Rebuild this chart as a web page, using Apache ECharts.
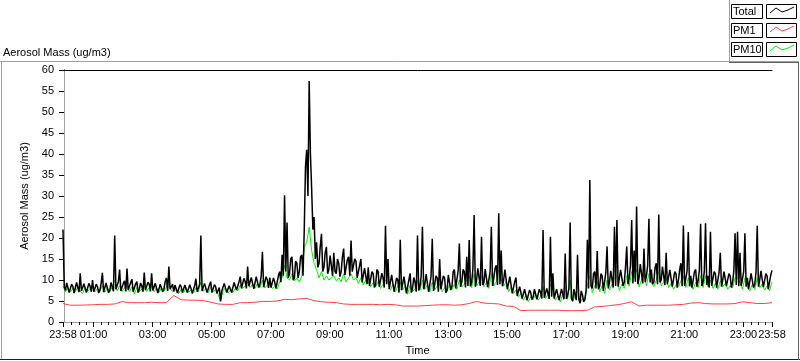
<!DOCTYPE html>
<html><head><meta charset="utf-8">
<script src="https://cdn.jsdelivr.net/npm/echarts@6/dist/echarts.min.js"></script>
<style>html,body{margin:0;padding:0;background:#fff;}#chart{width:800px;height:361px;}</style>
</head><body><div id="chart"></div>
<script>
// ---- data (minutes since midnight; first sample at 23:58 of previous day) ----
const startMinute = -2;
const totalStepMinutes = 2.5;
const pm10StepMinutes = 5;
const pm1StepMinutes = 15;

const totalValues = [
  22, 8.5, 7.5, 9.3, 9, 7, 6.8, 9, 8.5, 6.9, 7.2, 9.4, 9.2, 7.1, 11.6, 7.4, 7, 9.1, 8.8, 7, 7.3, 9.2, 8.5, 7.2,
  10, 7.2, 7, 9, 8.4, 6.9, 7.6, 9.2, 11.7, 7.1, 7.2, 9.3, 9, 7, 7.5, 9.4, 9.5, 7.3, 20.6, 7.8, 8, 9.6, 12.5, 7.4,
  7.6, 9.2, 9.8, 7.3, 12.7, 7.6, 8, 9.4, 10.2, 7.2, 7.4, 9.1, 9.6, 7, 7.8, 9.3, 8.6, 7.2, 11.8, 7.6, 7.5, 9.5, 9, 7.3,
  11.6, 7.5, 7.4, 9.2, 8.8, 6.9, 7, 9, 9.4, 7.2, 7.8, 9.6, 10.5, 7.4, 13.2, 7.8, 8.2, 9, 7.3, 8.8, 8.6, 6.9, 7.1, 8.9,
  8.4, 7, 6.9, 8.8, 9.2, 7, 7.2, 8.9, 8, 6.8, 6.8, 8.7, 10.3, 7.2, 7.5, 9, 20.6, 7.4, 7.8, 9.2, 9, 7, 6.9, 8.8,
  9.6, 7, 7.2, 8.9, 8.4, 6.8, 6.5, 8.2, 4.9, 7.4, 7.8, 9.2, 9.6, 7, 6.8, 8.6, 8.2, 7, 7, 9.4, 9, 7.6, 7.8, 9.6,
  10.8, 8, 8.2, 10.4, 9.6, 8, 13.2, 8.5, 8.4, 10.6, 10.5, 7.9, 8, 10.8, 11.2, 8.2, 9, 10.9, 16.7, 8.3, 8.6, 10.8, 10, 8.1,
  10.6, 8.2, 8.3, 10.5, 9.5, 8, 8, 11, 12, 9.5, 16, 11, 30.2, 12, 23.7, 10.5, 11.5, 15, 15.5, 10, 10.5, 14.5, 14, 10.5,
  12, 15.5, 16, 11, 22, 37, 41, 30, 57.4, 40, 31.8, 22, 25, 15, 19, 13, 14, 18, 21, 12, 13, 16.5, 17.9, 11.5,
  12.5, 15.8, 15.5, 11, 16.5, 12, 11.5, 15, 14, 10.8, 12, 15.5, 17.5, 11.2, 11, 14.8, 15.5, 11, 19.4, 12, 12, 15, 14.5, 10.5,
  10.5, 13.5, 15, 9.5, 9.5, 12.8, 12.5, 9, 13, 8.6, 8.5, 12, 11.5, 8.2, 9, 12.5, 12, 8.4, 8, 11.6, 10.5, 8.2, 22.9, 9,
  15, 7.8, 8, 11.2, 11, 7.2, 7, 10.5, 10, 7, 19.6, 7.6, 7.5, 10.8, 10.5, 6.8, 6.5, 10, 11.6, 7, 8, 10.6, 9.5, 7.2,
  20.6, 7.5, 8.5, 11, 22.7, 7.8, 9, 11.4, 11.5, 7.2, 7.5, 10.8, 19.8, 7.4, 9, 11, 10.5, 7.2, 15, 7.8, 8, 11, 10.5, 7,
  7.5, 11.2, 11, 7.6, 8.5, 12, 12.5, 8, 8, 12.2, 18.7, 8.4, 9.5, 12.5, 12, 8.2, 15.5, 8.6, 19.5, 8.5, 9.5, 12.6, 25.5, 8.4,
  10, 12.8, 13, 8.6, 20.3, 8.8, 9.5, 12.6, 12.5, 8.3, 8.5, 12, 22.7, 8.6, 10.5, 12.8, 13.5, 8.8, 25.9, 9, 17, 8.5, 10, 12.5,
  12.5, 7.8, 8, 10.8, 11, 6.8, 7, 9.6, 10.6, 6.2, 6.5, 8.4, 8, 5.6, 5.5, 7.8, 7.5, 5.2, 5, 7.6, 7, 5.3, 6, 7.8,
  8, 5.4, 5.5, 7.8, 7, 5.6, 21.9, 5.8, 6, 8, 8, 5.5, 20.3, 6, 11.6, 5.6, 5.5, 7.8, 7.5, 5.2, 5, 7.9, 8, 5.4,
  16.3, 5.5, 6.5, 8, 23.7, 5.6, 5, 7.8, 7.5, 5.2, 16, 5.5, 4.5, 7.4, 6.5, 4.8, 5.5, 7.6, 19.6, 8, 33.8, 8.5, 8, 11.5,
  12, 8, 16.9, 7.8, 8.5, 11.5, 11, 7.4, 7.5, 11.8, 18, 8, 9.5, 12.2, 12.5, 8.2, 22.7, 8.6, 24.3, 8.4, 8.5, 12.4, 12, 8.6,
  9.5, 13, 18, 9, 10.5, 13.4, 24.3, 9.2, 17, 9.6, 27.5, 9, 10.5, 13.8, 13.5, 9.2, 17.5, 9.5, 11, 13.5, 24.6, 9.4, 12.5, 9,
  9.5, 13, 14, 9, 25.6, 9.4, 10, 13.2, 13, 8.8, 16.5, 9, 9, 12.4, 12, 8.4, 8.5, 12, 11.5, 8.2, 10, 12.5, 14, 8.5,
  23, 8.6, 9, 12.2, 21.4, 8.5, 11, 8.2, 8.5, 12, 12.5, 8.4, 10, 12.3, 23.4, 8.6, 9.5, 12, 23.5, 8.8, 11, 8.2, 21.5, 8.6,
  9, 12, 11.5, 8.2, 8.5, 11.8, 16.5, 8.4, 10, 12, 12, 8.6, 8.5, 11.5, 11, 8.2, 9.5, 12.2, 21.1, 8.8, 21.5, 8.5, 16.5, 8.6,
  9, 12, 21.1, 8.4, 10.5, 7.8, 8, 11.6, 12, 8.2, 9, 11.8, 22.9, 8.4, 10, 12.2, 12, 8.3, 8.5, 11.5, 11, 7.8, 8, 11.2,
  12.3
];

const pm10Values = [
  8.5, 7.2, 8.2, 7.1, 8, 7.2, 8.3, 7.3, 6.8, 8.2, 7.3, 8,
  8.4, 7.2, 8, 7.3, 8.6, 7.1, 8.2, 7.2, 8.3, 10, 7.4, 8.6,
  7.3, 8.2, 8.8, 7.2, 8.4, 6.7, 8.2, 7.3, 7.8, 8.6, 7.3, 8.2,
  8.6, 7.2, 8.2, 7, 8.2, 7.3, 8.4, 9, 7.5, 7.2, 7.8, 6.7,
  7.8, 7, 8.2, 7.1, 7.6, 6.9, 8.2, 7.2, 9.5, 7.3, 8, 7,
  8.2, 7.1, 7.8, 6.6, 5, 7.4, 8.2, 6.9, 7.6, 7, 8, 7.4,
  8.8, 8, 8.6, 9.5, 8.2, 9, 8, 9.2, 8.2, 10, 8.1, 8.8,
  8.8, 8, 8.4, 7.8, 9.6, 10.5, 13.6, 10.5, 10, 11.5, 9.8, 10.5,
  9.5, 11, 17.8, 19, 22.6, 17, 14, 12.5, 10.5, 12, 10, 11,
  10, 10.5, 11, 9.8, 10.5, 9.6, 11.5, 9.5, 10.5, 11.5, 10, 10.5,
  9.2, 10.5, 8.8, 10, 9.5, 8.4, 9.4, 8.4, 9.6, 8, 9, 10,
  9.5, 7.6, 9, 7.2, 8.6, 9.5, 7.6, 8.6, 6.6, 8.8, 7.2, 8,
  9.8, 7.6, 10, 7.8, 8.8, 7.2, 9.5, 7.6, 8.6, 9, 7.2, 8.2,
  7.5, 8.8, 7.8, 9, 7.8, 10, 8.4, 9, 10, 11, 8.2, 11.5,
  8.6, 9.5, 11, 8.4, 9.4, 8, 11.5, 8.6, 9.6, 12.5, 10, 8.6,
  9.6, 7.2, 8.4, 6.8, 7.6, 6, 6.8, 5.2, 6.4, 4.8, 6, 5.3,
  6.6, 5.2, 6, 8.5, 5.6, 6.6, 9, 7.5, 5.2, 6.2, 4.8, 6.6,
  8.5, 5.4, 10, 4.8, 6.2, 8.5, 4.4, 5.6, 5, 8.8, 11, 7,
  8.6, 9.6, 7.2, 8.6, 6.8, 10, 7.6, 9, 10.5, 11, 7.5, 9,
  8, 11, 8.5, 12, 10.5, 12.5, 8.4, 10, 11.5, 8.6, 11.5, 9.5,
  8.4, 10, 12, 8.6, 9.6, 10.5, 8.2, 9.2, 7.8, 8.8, 8.4, 9.8,
  11, 8.2, 10.5, 8.6, 7.8, 9.4, 8.2, 11, 8.2, 11, 8.4, 10,
  8, 9.2, 7.8, 9.8, 8.4, 9.2, 7.8, 8.6, 8.2, 10.5, 10.5, 9.4,
  7.8, 10.5, 8.2, 7.4, 9, 7.8, 10.5, 8.2, 9, 7.6, 8.6, 7.4,
  9.5
];

const pm1Values = [
  4.4, 4.0, 4.0, 4.05, 4.1, 4.2, 4.2, 4.3, 4.85, 4.6, 4.6, 4.6,
  4.7, 4.6, 4.6, 6.3, 5.3, 5.2, 5.2, 5.1, 4.7, 4.3, 4.2, 4.2,
  4.6, 4.6, 4.7, 4.9, 4.9, 5.0, 5.4, 5.3, 5.5, 5.6, 5.1, 4.8,
  4.7, 4.6, 4.3, 4.2, 4.2, 4.2, 4.2, 4.1, 4.2, 4.1, 3.8, 3.8,
  3.8, 3.9, 4.0, 4.1, 4.1, 4.0, 4.1, 4.4, 4.9, 4.5, 4.4, 4.3,
  3.8, 3.7, 2.7, 2.8, 2.8, 2.8, 2.8, 2.8, 2.7, 2.7, 2.7, 2.8,
  3.6, 3.7, 3.9, 4.1, 4.4, 4.8, 3.8, 4.0, 4.0, 4.0, 4.0, 4.1,
  4.2, 4.5, 4.6, 4.4, 4.3, 4.3, 4.3, 4.4, 4.8, 4.6, 4.4, 4.4,
  4.6
];

const tickMinutes = [-2, 60, 180, 300, 420, 540, 660, 780, 900, 1020, 1140, 1260, 1380, 1438];
const tickLabels = ['23:58','01:00','03:00','05:00','07:00','09:00','11:00','13:00','15:00','17:00','19:00','21:00','23:00','23:58'];
const yMin = 0, yMax = 60, yStep = 5;

// ---- build ----
function toPairs(values, step) { return values.map((v, i) => [startMinute + i * step, v]); }
const minorTickMinutes = [];
for (let m = 15; m < 1438; m += 15) { if (tickMinutes.indexOf(m) < 0) minorTickMinutes.push(m); }

const FONT = 'Liberation Sans';
const chart = echarts.init(document.getElementById('chart'), null, {renderer: 'canvas'});
const xMin = tickMinutes[0], xMax = tickMinutes[tickMinutes.length - 1];

function swatch(y0, color) {
  return {type: 'polyline', silent: true,
    shape: {points: [[770, y0 + 9], [776, y0 + 4], [782, y0 + 8], [788, y0 + 6], [794, y0 + 3]]},
    style: {stroke: color, lineWidth: 1, fill: null}};
}
function box(x, y, w, h) {
  return {type: 'rect', silent: true, shape: {x: x + 0.5, y: y + 0.5, width: w, height: h},
    style: {fill: '#fff', stroke: '#000', lineWidth: 1}};
}
function label(x, y, t) {
  return {type: 'text', silent: true, x: x, y: y,
    style: {text: t, font: '11px "' + FONT + '"', fill: '#000', verticalAlign: 'middle'}};
}
function seg(x1, y1, x2, y2, c) {
  return {type: 'line', silent: true, shape: {x1: x1, y1: y1, x2: x2, y2: y2}, style: {stroke: c, lineWidth: 1}};
}

const GREEN = '#00f000', RED = '#ff4040';
const option = {
  animation: false,
  backgroundColor: '#fff',
  textStyle: {fontFamily: FONT, fontSize: 11, color: '#000'},
  grid: {left: 63, right: 28, top: 70, bottom: 39, show: false},
  xAxis: [
    {type: 'value', min: xMin, max: xMax, position: 'bottom',
     name: 'Time', nameLocation: 'middle', nameGap: 23,
     nameTextStyle: {fontFamily: FONT, fontSize: 11, color: '#000'},
     axisLine: {show: true, lineStyle: {color: '#a0a0a0', width: 1}},
     axisTick: {show: true, length: 5, customValues: tickMinutes, lineStyle: {color: '#000'}},
     axisLabel: {show: true, customValues: tickMinutes, margin: 7, fontFamily: FONT, fontSize: 11, color: '#000',
       formatter: function (v) { const k = tickMinutes.indexOf(v); return k >= 0 ? tickLabels[k] : ''; }},
     splitLine: {show: false}},
    {type: 'value', min: xMin, max: xMax, position: 'bottom',
     axisLine: {show: false},
     axisTick: {show: true, length: 3, customValues: minorTickMinutes, lineStyle: {color: '#000'}},
     axisLabel: {show: false}, splitLine: {show: false}},
    {type: 'value', min: xMin, max: xMax, position: 'top',
     axisLine: {show: true, lineStyle: {color: '#000', width: 1}},
     axisTick: {show: false}, axisLabel: {show: false}, splitLine: {show: false}}
  ],
  yAxis: [
    {type: 'value', min: yMin, max: yMax, interval: yStep, position: 'left',
     name: 'Aerosol Mass (ug/m3)', nameLocation: 'middle', nameGap: 25, nameRotate: 90,
     nameTextStyle: {fontFamily: FONT, fontSize: 11, color: '#000'},
     axisLine: {show: true, lineStyle: {color: '#000', width: 1}},
     axisTick: {show: true, length: 5, lineStyle: {color: '#000'}},
     axisLabel: {margin: 9, fontFamily: FONT, fontSize: 11, color: '#000'},
     splitLine: {show: false}},
    {type: 'value', min: yMin, max: yMax, interval: yStep, position: 'right',
     axisLine: {show: true, lineStyle: {color: '#a0a0a0', width: 1}},
     axisTick: {show: false}, axisLabel: {show: false}, splitLine: {show: false}}
  ],
  series: [
    {name: 'PM10', type: 'line', xAxisIndex: 0, yAxisIndex: 0, data: toPairs(pm10Values, pm10StepMinutes),
     showSymbol: false, symbol: 'none', silent: true, lineStyle: {color: GREEN, width: 1}, z: 2},
    {name: 'Total', type: 'line', xAxisIndex: 0, yAxisIndex: 0, data: toPairs(totalValues, totalStepMinutes),
     showSymbol: false, symbol: 'none', silent: true, lineStyle: {color: '#000000', width: 1.5}, z: 3},
    {name: 'PM1', type: 'line', xAxisIndex: 0, yAxisIndex: 0, data: toPairs(pm1Values, pm1StepMinutes),
     showSymbol: false, symbol: 'none', silent: true, lineStyle: {color: RED, width: 1}, z: 4}
  ],
  graphic: [
    seg(0, 61.5, 799, 61.5, '#a0a0a0'),
    seg(1.5, 61, 1.5, 360, '#a0a0a0'),
    seg(0, 359.5, 800, 359.5, '#202020'),
    seg(729.5, 0, 729.5, 61, '#a0a0a0'),
    seg(729, 62.5, 798, 62.5, '#606060'),
    seg(798.5, 62, 798.5, 360, '#606060'),
    {type: 'text', silent: true, x: 3, y: 53,
     style: {text: 'Aerosol Mass (ug/m3)', font: '11px "' + FONT + '"', fill: '#000', verticalAlign: 'middle'}},
    box(731, 4, 31, 14), label(733, 12, 'Total'), box(766, 4, 30, 14), swatch(4, '#000000'),
    box(731, 23, 31, 14), label(733, 31, 'PM1'), box(766, 23, 30, 14), swatch(23, RED),
    box(731, 42, 31, 14), label(733, 50, 'PM10'), box(766, 42, 30, 14), swatch(42, GREEN)
  ]
};
chart.setOption(option);
</script>
</body></html>
